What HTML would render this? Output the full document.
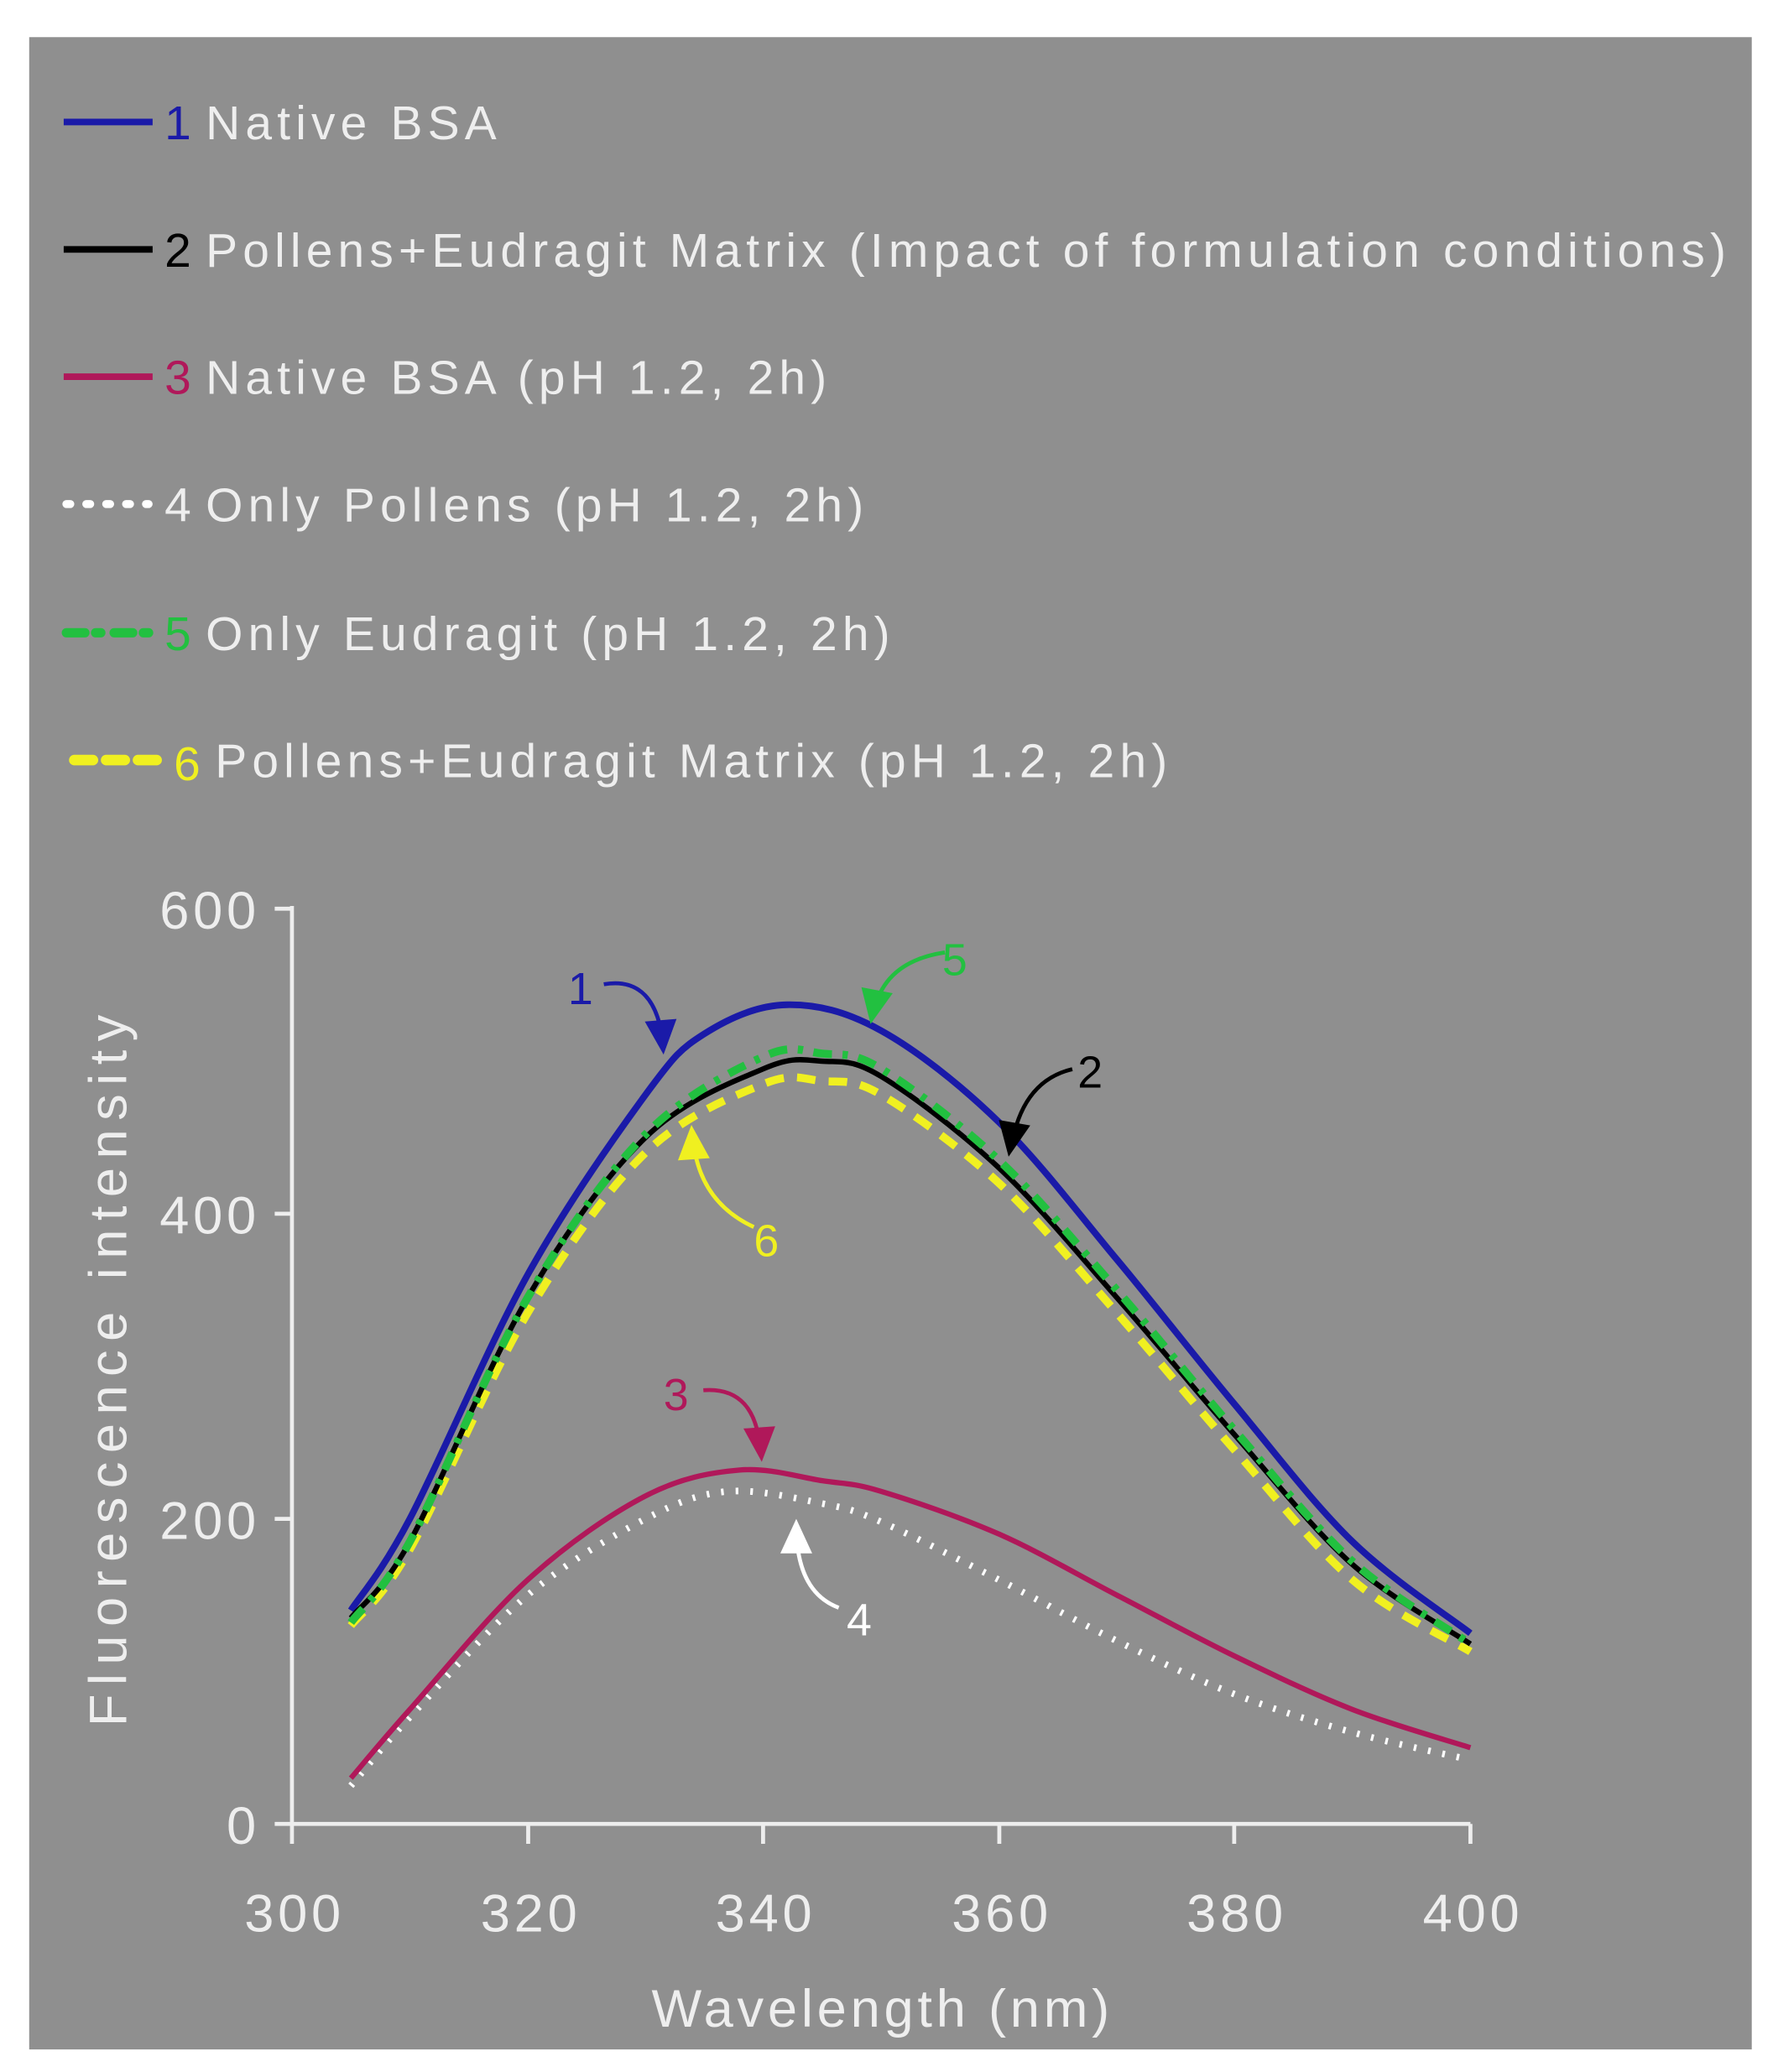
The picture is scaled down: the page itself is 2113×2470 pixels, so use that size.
<!DOCTYPE html>
<html><head><meta charset="utf-8"><style>
html,body{margin:0;padding:0;background:#fff;}
svg{display:block;}
text{font-family:"Liberation Sans",Arial,sans-serif;}
</style></head><body>
<svg id="s" width="2113" height="2470" viewBox="0 0 1336 1562" preserveAspectRatio="none" xmlns="http://www.w3.org/2000/svg">
<rect x="0" y="0" width="1336" height="1562" fill="#ffffff"/>
<rect x="22" y="28" width="1298" height="1517" fill="#8f8f8f"/>
<g font-size="36" fill="#eeeeee" letter-spacing="3.9">
<line x1="48" y1="92" x2="115" y2="92" stroke="#1a1aa8" stroke-width="5"/>
<text x="124" y="105" fill="#1a1aa8">1</text><text x="155" y="105">Native BSA</text>
<line x1="48" y1="188" x2="115" y2="188" stroke="#000" stroke-width="5"/>
<text x="124" y="201" fill="#000">2</text><text x="155" y="201">Pollens+Eudragit Matrix (Impact of formulation conditions)</text>
<line x1="48" y1="284" x2="115" y2="284" stroke="#b0185a" stroke-width="5"/>
<text x="124" y="297" fill="#b0185a">3</text><text x="155" y="297">Native BSA (pH 1.2, 2h)</text>
<line x1="50" y1="380" x2="112" y2="380" stroke="#fff" stroke-width="6" stroke-dasharray="3 12" stroke-linecap="round"/>
<text x="124" y="393">4</text><text x="155" y="393">Only Pollens (pH 1.2, 2h)</text>
<line x1="50" y1="477" x2="112" y2="477" stroke="#22c040" stroke-width="7" stroke-dasharray="14 8 4 10" stroke-linecap="round"/>
<text x="124" y="490" fill="#22c040">5</text><text x="155" y="490">Only Eudragit (pH 1.2, 2h)</text>
<line x1="56" y1="573" x2="122" y2="573" stroke="#f0f020" stroke-width="8" stroke-dasharray="14 10" stroke-linecap="round"/>
<text x="131" y="588" fill="#f0f020">6</text><text x="162" y="586">Pollens+Eudragit Matrix (pH 1.2, 2h)</text>
</g>
<g stroke="#eeeeee" stroke-width="3" fill="none">
<line x1="220" y1="683" x2="220" y2="1375"/>
<line x1="220" y1="1375" x2="1108" y2="1375"/>
<line x1="207" y1="685" x2="220" y2="685"/><line x1="207" y1="915" x2="220" y2="915"/>
<line x1="207" y1="1145" x2="220" y2="1145"/><line x1="207" y1="1375" x2="220" y2="1375"/>
<line x1="220" y1="1375" x2="220" y2="1390"/><line x1="398" y1="1375" x2="398" y2="1390"/>
<line x1="575" y1="1375" x2="575" y2="1390"/><line x1="753" y1="1375" x2="753" y2="1390"/>
<line x1="930" y1="1375" x2="930" y2="1390"/><line x1="1108" y1="1375" x2="1108" y2="1390"/>
</g>
<g font-size="40" fill="#eeeeee" letter-spacing="3" text-anchor="end">
<text x="196" y="700">600</text><text x="196" y="930">400</text>
<text x="196" y="1160">200</text><text x="196" y="1390">0</text>
</g>
<g font-size="40" fill="#eeeeee" letter-spacing="3" text-anchor="middle">
<text x="222" y="1456">300</text><text x="400" y="1456">320</text><text x="577" y="1456">340</text>
<text x="755" y="1456">360</text><text x="932" y="1456">380</text><text x="1110" y="1456">400</text>
<text x="665" y="1528">Wavelength (nm)</text>
<text transform="translate(95,1030) rotate(-90)" letter-spacing="6.6">Fluorescence intensity</text>
</g>
<g id="curves" fill="none"></g>
<g id="ann" fill="none" stroke-width="3"></g>
<g font-size="34">
<text x="428" y="757" fill="#1a1aa8">1</text>
<text x="710" y="735" fill="#22c040">5</text>
<text x="812" y="820" fill="#000">2</text>
<text x="568" y="947" fill="#f0f020">6</text>
<text x="500" y="1063" fill="#b0185a">3</text>
<text x="638" y="1233" fill="#fff">4</text>
</g>
</svg>
<script>
function X(l){return 220+(l-300)*8.88;}
function Y(v){return 1375-v*1.15;}
function path(pts){
 var p=pts.map(function(a){return [X(a[0]),Y(a[1])];});
 var d="M"+p[0][0]+","+p[0][1];
 for(var i=0;i<p.length-1;i++){
  var p0=p[i-1]||p[i],p1=p[i],p2=p[i+1],p3=p[i+2]||p2;
  var c1=[p1[0]+(p2[0]-p0[0])/6,p1[1]+(p2[1]-p0[1])/6];
  var c2=[p2[0]-(p3[0]-p1[0])/6,p2[1]-(p3[1]-p1[1])/6];
  d+=" C"+c1+" "+c2+" "+p2;
 }
 return d;
}
var S=[
 {c:"#fff",w:5,da:"2 9",pts:[[305,25],[310,70],[320,150],[330,200],[337,218],[345,210],[350,198],[360,160],[370,120],[380,85],[390,60],[400,42]]},
 {c:"#b0185a",w:4,pts:[[305,30],[310,75],[320,160],[330,215],[338,232],[345,225],[350,218],[360,190],[370,150],[380,110],[390,75],[400,50]]},
 {c:"#1a1aa8",w:5,pts:[[305,140],[310,200],[320,360],[330,478],[335,518],[342,537],[350,520],[360,460],[370,370],[380,275],[390,185],[400,125]]},
 {c:"#f0f020",w:6,da:"14 10",pts:[[305,130],[310,180],[320,335],[330,440],[340,485],[345,487],[350,478],[360,420],[370,335],[380,245],[390,160],[400,113]]},
 {c:"#000",w:4,pts:[[305,135],[310,185],[320,345],[330,450],[340,495],[345,500],[350,490],[360,430],[370,345],[380,255],[390,170],[400,118]]},
 {c:"#22c040",w:6,da:"14 8 4 8",pts:[[305,132],[310,185],[320,345],[330,452],[340,503],[345,505],[350,495],[360,435],[370,350],[380,258],[390,172],[400,118]]}
];
var g=document.getElementById("curves"),ns="http://www.w3.org/2000/svg";
S.forEach(function(s){var e=document.createElementNS(ns,"path");e.setAttribute("d",path(s.pts));e.setAttribute("stroke",s.c);e.setAttribute("stroke-width",s.w);if(s.da){e.setAttribute("stroke-dasharray",s.da);}g.appendChild(e);});
var A=[["#1a1aa8","M455,742 Q495,735 500,790",[500,795]],
["#22c040","M712,718 Q665,725 658,765",[656,772]],
["#000","M808,806 Q770,815 762,865",[760,872]],
["#f0f020","M568,925 Q525,905 522,855",[521,848]],
["#b0185a","M530,1048 Q570,1045 573,1095",[574,1102]],
["#fff","M632,1212 Q600,1200 600,1150",[600,1145]]];
var a=document.getElementById("ann");
A.forEach(function(t){var e=document.createElementNS(ns,"path");e.setAttribute("d",t[1]);e.setAttribute("stroke",t[0]);a.appendChild(e);
 var m=t[1].match(/Q([\d.]+),([\d.]+) ([\d.]+),([\d.]+)/);var qx=+m[1],qy=+m[2],ex=t[2][0],ey=t[2][1];
 var dx=ex-qx,dy=ey-qy,L=Math.sqrt(dx*dx+dy*dy);dx/=L;dy/=L;var px=-dy,py=dx;
 var h=document.createElementNS(ns,"polygon");
 h.setAttribute("points",ex+","+ey+" "+(ex-dx*26+px*12)+","+(ey-dy*26+py*12)+" "+(ex-dx*26-px*12)+","+(ey-dy*26-py*12));
 h.setAttribute("fill",t[0]);h.setAttribute("stroke","none");a.appendChild(h);});
</script>
</body></html>
